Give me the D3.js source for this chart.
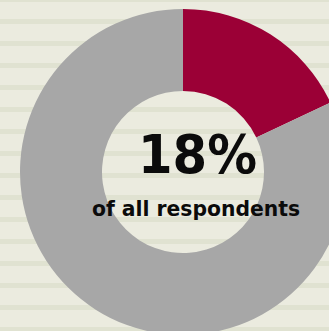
<!DOCTYPE html>
<html>
<head>
<meta charset="utf-8">
<script src="https://cdn.jsdelivr.net/npm/d3@7/dist/d3.min.js"></script>
<style>
  html, body { margin: 0; padding: 0; background: #ebebdf; }
  svg { display: block; }
</style>
</head>
<body>
<svg id="chart" width="329" height="331"></svg>
<script>
// Share of respondents
const categories = ["Respondents", "Others"];
const values = [18, 82];
const colors = ["#9b0036", "#a7a7a7"];
const headline = "18%";
const subline = "of all respondents";

const width = 329, height = 331;
const svg = d3.select("#chart");

// Striped paper background
svg.append("rect").attr("width", width).attr("height", height).attr("fill", "#ebebdf");
svg.append("g").selectAll("rect")
  .data(d3.range(-3, height, 22))
  .join("rect")
  .attr("x", 0).attr("y", d => d)
  .attr("width", width).attr("height", 5)
  .attr("fill", "#e0e2d1");

const cx = 183, cy = 172, outerR = 163, innerR = 81;

const pie = d3.pie().sort(null).value(d => d.value);
const arc = d3.arc().innerRadius(innerR).outerRadius(outerR);
const data = categories.map((c, i) => ({ name: c, value: values[i], color: colors[i] }));

svg.append("g")
  .attr("transform", `translate(${cx},${cy})`)
  .selectAll("path")
  .data(pie(data))
  .join("path")
  .attr("d", arc)
  .attr("fill", d => d.data.color);

// Centre labels
svg.append("text")
  .attr("x", 197.5).attr("y", 173)
  .attr("text-anchor", "middle")
  .attr("font-family", "'DejaVu Sans', sans-serif")
  .attr("font-weight", "bold")
  .attr("font-size", 54)
  .attr("fill", "#0b0b0b")
  .attr("textLength", 119)
  .attr("lengthAdjust", "spacingAndGlyphs")
  .text(headline);

svg.append("text")
  .attr("x", 196).attr("y", 216)
  .attr("text-anchor", "middle")
  .attr("font-family", "'DejaVu Sans', sans-serif")
  .attr("font-weight", "bold")
  .attr("font-size", 21)
  .attr("fill", "#0b0b0b")
  .attr("textLength", 208)
  .attr("lengthAdjust", "spacingAndGlyphs")
  .text(subline);
</script>
</body>
</html>
